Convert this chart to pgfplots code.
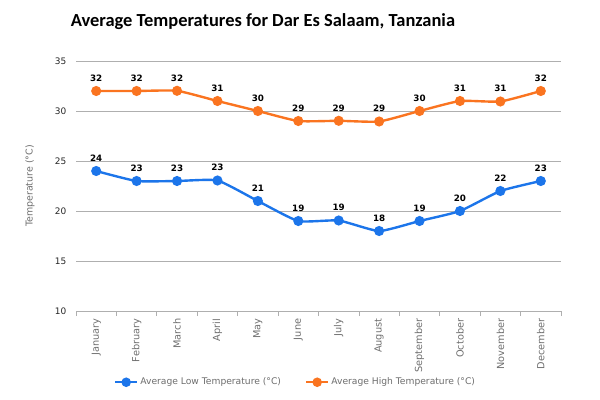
\documentclass[border=0pt]{standalone}
\usepackage{pgfplots}
\pgfplotsset{compat=1.18}
\usepackage{fontspec}
\setmainfont{DejaVu Sans}
\newfontfamily\titlefont{Carlito}
\definecolor{lowblue}{RGB}{28,117,234}
\definecolor{highorange}{RGB}{250,116,32}
\definecolor{gridgray}{RGB}{175,175,175}
\definecolor{labgray}{RGB}{110,110,110}
\begin{document}
\begin{tikzpicture}
\path[use as bounding box] (0,0) rectangle (600bp,400bp);
\node[font=\titlefont\bfseries\fontsize{18.5}{22}\selectfont, anchor=center] at (263bp,378bp) {Average Temperatures for Dar Es Salaam, Tanzania};
\begin{axis}[
  at={(76bp,89bp)}, anchor=south west,
  width=485bp, height=250bp, scale only axis,
  xmin=-0.5, xmax=11.5, ymin=10, ymax=35,
  ytick={10,15,...,35},
  xtick={0,...,11},
  xticklabels={January,February,March,April,May,June,July,August,September,October,November,December},
  minor xtick={-0.5,0.5,...,11.5},
  /pgf/number format/assume math mode=true,
  axis lines*=left,
  y axis line style={draw=none},
  x axis line style={gridgray, line width=0.8pt},
  ymajorgrids, grid style={gridgray, line width=0.8pt},
  major x tick style={draw=none},
  major y tick style={draw=none},
  minor x tick style={gridgray, line width=0.8pt},
  tick align=outside,
  minor tick length=5bp,
  xticklabel style={rotate=90, anchor=east, font=\fontsize{9.8}{10}\selectfont, text=labgray},
  yticklabel style={font=\fontsize{9}{10}\selectfont, text=black!85, xshift=-2bp},
  ylabel={Temperature (°C)},
  every axis y label/.style={at={(axis description cs:-0.095,0.5)}, rotate=90, anchor=center,
    font=\fontsize{9.5}{10}\selectfont, text=labgray},
  legend style={at={(0.4526,-0.285)}, anchor=center, draw=none, legend columns=2,
    font=\fontsize{9.2}{10}\selectfont, text=labgray,
    /tikz/every even column/.append style={column sep=22bp}},
  legend image code/.code={\draw[#1, mark=none] (0bp,0bp) -- (22bp,0bp); \fill[#1] (11bp,0bp) circle (3.5bp);},
  nodes near coords,
  every node near coord/.append style={font=\bfseries\fontsize{8.8}{10}\selectfont, text=black, yshift=5bp},
  point meta=explicit symbolic,
  clip=false,
]
\addplot[lowblue, line width=2.4pt, smooth, tension=0.3, mark=*, mark size=3.8bp, mark options={solid}] coordinates {
(0,24) [24] (1,23) [23] (2,23) [23] (3,23.05) [23] (4,21) [21] (5,19) [19]
(6,19.05) [19] (7,18) [18] (8,19) [19] (9,20) [20] (10,22) [22] (11,23) [23]};
\addlegendentry{Average Low Temperature (°C)}
\addplot[highorange, line width=2.4pt, smooth, tension=0.3, mark=*, mark size=3.8bp, mark options={solid}] coordinates {
(0,32) [32] (1,32) [32] (2,32.02) [32] (3,31) [31] (4,30) [30] (5,29) [29]
(6,29.02) [29] (7,28.95) [29] (8,30) [30] (9,31) [31] (10,30.95) [31] (11,32) [32]};
\addlegendentry{Average High Temperature (°C)}
\end{axis}
\end{tikzpicture}
\end{document}
